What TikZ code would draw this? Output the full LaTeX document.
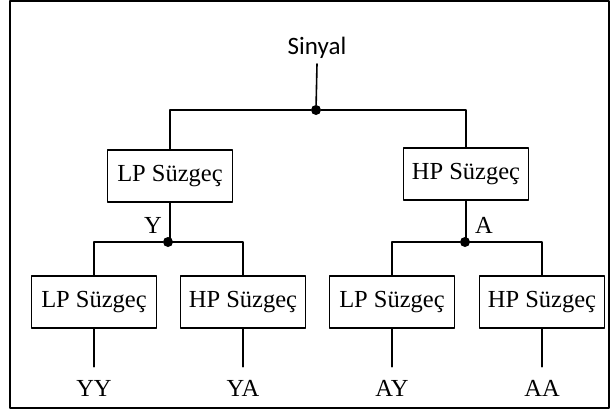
\documentclass[tikz,border=0pt]{standalone}
\usepackage{fontspec}
\setmainfont{Liberation Serif}
\newfontfamily\sinyalfont{Carlito}
\usetikzlibrary{positioning}

\begin{document}
\begin{tikzpicture}[x=1pt,y=-1pt,line cap=round,line join=round]
\useasboundingbox (0,0) rectangle (611,415);
\tikzset{wire/.style={draw=black,line width=1.6pt},filterbox/.style={draw=black,line width=1.6pt,minimum width=125pt,minimum height=52pt,inner sep=0pt,font=\fontsize{24.5}{28}\selectfont},junction/.style={circle,fill=black,inner sep=0pt,minimum size=10pt},outlbl/.style={inner xsep=0pt,inner ysep=13pt,font=\fontsize{24.5}{28}\selectfont},branchlbl/.style={inner sep=2pt,font=\fontsize{24.5}{28}\selectfont}}
\draw[line width=1.8pt] (10,1) rectangle (609,408);
% input and first split
\node[font=\sinyalfont\fontsize{25}{30}\selectfont,inner sep=5pt] (sig) at (317,48) {Sinyal};
\node[junction] (top) at (316,110) {};
\node[filterbox] (lp) at (170,176) {LP Süzgeç};
\node[filterbox] (hp) at (466,174) {HP Süzgeç};
\draw[wire] (sig.south) -- (top);
\draw[wire] (lp.north) |- (top) -| (hp.north);
% second level junctions
\node[junction] (jy) at (168,242) {};
\node[junction] (ja) at (465,242) {};
\node[branchlbl] (ylbl) at (153,225) {Y};
\node[branchlbl] (albl) at (484,225) {A};
\draw[wire] (lp.south) -- (lp.south |- jy) -- (jy);
\draw[wire] (hp.south) -- (hp.south |- ja) -- (ja);
% bottom filters
\node[filterbox] (lpy) at (94,302) {LP Süzgeç};
\node[filterbox] (hpy) at (243,302) {HP Süzgeç};
\node[filterbox] (lpa) at (392,302) {LP Süzgeç};
\node[filterbox] (hpa) at (542,302) {HP Süzgeç};
\draw[wire] (lpy.north) |- (jy) -| (hpy.north);
\draw[wire] (lpa.north) |- (ja) -| (hpa.north);
% outputs
\node[outlbl] (yy) at (94,388) {YY};
\node[outlbl] (ya) at (243,388) {YA};
\node[outlbl] (ay) at (392,388) {AY};
\node[outlbl] (aa) at (542,388) {AA};
\foreach \b/\o in {lpy/yy,hpy/ya,lpa/ay,hpa/aa}
  \draw[wire] (\b.south) -- (\o.north);
\end{tikzpicture}
\end{document}
